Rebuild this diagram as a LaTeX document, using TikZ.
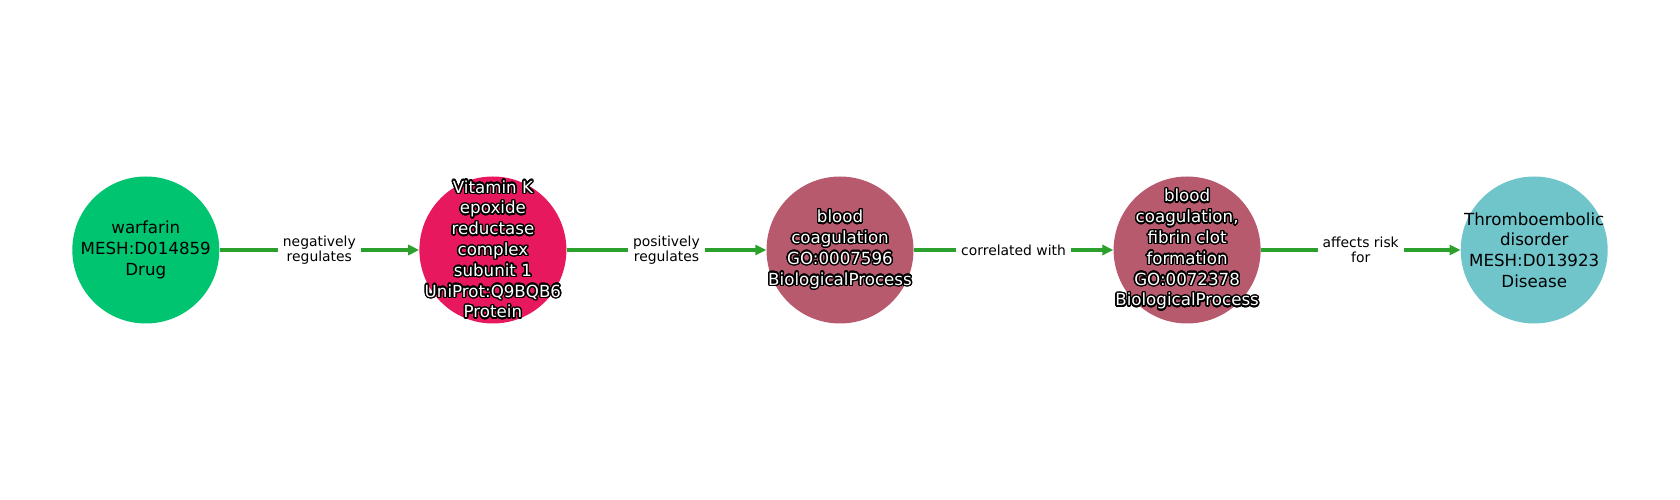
\documentclass[tikz,border=0pt]{standalone}
\usepackage{fontspec}
\setmainfont{DejaVu Sans}
\usepackage[copies]{contour}
\contourlength{1.4pt}
\contournumber{24}
\usetikzlibrary{arrows.meta}
\definecolor{drugc}{RGB}{0,196,112}
\definecolor{protc}{RGB}{232,24,94}
\definecolor{bpc}{RGB}{184,90,110}
\definecolor{disc}{RGB}{112,197,203}
\definecolor{edgec}{RGB}{44,160,44}
\newcommand{\oc}[1]{\contour{black}{\textcolor{white}{#1}}}
\tikzset{
  ent/.style={circle,minimum size=147pt,inner sep=0pt,draw=none},
  enttext/.style={align=center,inner sep=0pt,font=\fontsize{16.67}{20.8}\selectfont},
  rel/.style={draw=edgec,line width=3.5pt,-{Triangle[length=11pt,width=10pt]}},
  rellabel/.style={fill=white,align=center,inner xsep=5pt,inner ysep=3pt,font=\fontsize{13.9}{15.5}\selectfont}
}
\begin{document}
\begin{tikzpicture}[x=1pt,y=1pt]
\useasboundingbox (0,0) rectangle (1680,500);
\node[ent,fill=drugc] (n1) at (145.8,250) {};
\node[ent,fill=protc] (n2) at (492.9,250) {};
\node[ent,fill=bpc] (n3) at (840,250) {};
\node[ent,fill=bpc] (n4) at (1187.1,250) {};
\node[ent,fill=disc] (n5) at (1534.2,250) {};
\draw[rel] (n1) -- node[rellabel] {negatively\\regulates} (n2);
\draw[rel] (n2) -- node[rellabel] {positively\\regulates} (n3);
\draw[rel] (n3) -- node[rellabel] {correlated with} (n4);
\draw[rel] (n4) -- node[rellabel] {affects risk\\for} (n5);
\node[enttext] (t1) at (n1) {warfarin\\MESH:D014859\\Drug};
\node[enttext] (t2) at (n2) {\oc{Vitamin K}\\\oc{epoxide}\\\oc{reductase}\\\oc{complex}\\\oc{subunit 1}\\\oc{UniProt:Q9BQB6}\\\oc{Protein}};
\node[enttext] (t3) at (n3) {\oc{blood}\\\oc{coagulation}\\\oc{GO:0007596}\\\oc{BiologicalProcess}};
\node[enttext] (t4) at (n4) {\oc{blood}\\\oc{coagulation,}\\\oc{fibrin clot}\\\oc{formation}\\\oc{GO:0072378}\\\oc{BiologicalProcess}};
\node[enttext] (t5) at (n5) {Thromboembolic\\disorder\\MESH:D013923\\Disease};
\end{tikzpicture}
\end{document}
